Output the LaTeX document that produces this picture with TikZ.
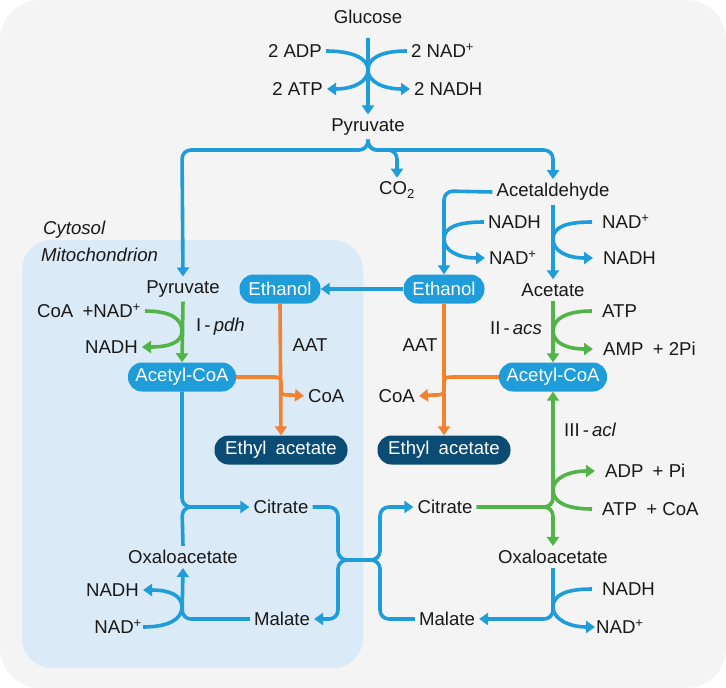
\documentclass[tikz,border=0pt]{standalone}
\usepackage{fontspec}
\setmainfont{Liberation Sans}
\usetikzlibrary{arrows.meta}
\definecolor{bggray}{RGB}{244,244,244}
\definecolor{mitoblue}{RGB}{218,234,247}
\definecolor{flowblue}{RGB}{31,157,218}
\definecolor{flowgreen}{RGB}{80,180,70}
\definecolor{floworange}{RGB}{242,130,48}
\definecolor{navy}{RGB}{10,76,116}
\definecolor{ink}{RGB}{25,25,25}

\begin{document}
\begin{tikzpicture}[
            x=1pt, y=-1pt,
            font=\fontsize{18.6}{21}\selectfont,
            every node/.style = {text=ink, inner sep=4pt},
            flow/.style  = {line width=3.6pt, rounded corners=9pt, -{Triangle[length=9pt,width=12pt]}},
            plain/.style = {line width=3.6pt, rounded corners=9pt},
            curly/.style = {line width=3.6pt, -{Triangle[length=9pt,width=12pt]}},
            pill/.style  = {fill=flowblue, text=white, rounded corners=14pt, minimum height=29pt, inner sep=3pt},
            darkpill/.style = {pill, fill=navy, minimum width=133pt},
            wide/.style  = {inner xsep=10pt}
                        ]
            \useasboundingbox (0,0) rectangle (726,688);
            % compartments
            \fill[bggray, rounded corners=40pt] (0,0) rectangle (726,688);
            \fill[mitoblue, rounded corners=30pt] (22,240) rectangle (363,668);
            \node[anchor=west] (cyto) at (39,230) {\itshape Cytosol};
            \node[anchor=west] (mito) at (37,255) {\itshape Mitochondrion};
            % glycolysis
            \node (glu) at (368,17) {Glucose};
            \node[anchor=east] (adp) at (326,51) {2 ADP};
            \node[anchor=east] (atp) at (327,89) {2 ATP};
            \node[anchor=west] (nadpa) at (407,51) {2 NAD\textsuperscript{+}};
            \node[anchor=west] (nadha) at (410,89) {2 NADH};
            \node (pyr) at (368,127) {Pyruvate};
            \coordinate (ga) at (368,70);
            \draw[flow, flowblue, shorten <=10pt] (glu.south) -- (pyr.north);
            \draw[curly, flowblue] (adp.east) .. controls +(26,0) and +(0,-12) .. (ga) .. controls +(0,12) and +(26,0) .. (atp.east);
            \draw[curly, flowblue] (nadpa.west) .. controls +(-26,0) and +(0,-12) .. (ga) .. controls +(0,12) and +(-26,0) .. (nadha.west);
            % cytosol branch
            \node (co2) at (397,190) {CO\textsubscript{2}};
            \node (ald) at (553,192) {Acetaldehyde};
            \node[pill, minimum width=81pt] (ethr) at (444,289) {Ethanol};
            \node (acet) at (553,290) {Acetate};
            \node (pyrm) at (183,289) {Pyruvate};
            \node[anchor=west] (nadhb) at (484,222) {NADH};
            \node[anchor=west] (nadpb) at (485,258) {NAD\textsuperscript{+}};
            \node[anchor=west, wide] (nadpc) at (592,222) {NAD\textsuperscript{+}};
            \node[anchor=west, wide] (nadhc) at (593,258) {NADH};
            \coordinate (gb) at (444,239);
            \coordinate (gc) at (553,239);
            \draw[flow, flowblue] (pyr.south) -- (368,150) -- (182,150) -- (pyrm.north);
            \draw[flow, flowblue] (pyr.south) -- (368,150) -- (553,150) -- (ald.north);
            \draw[flow, flowblue] (pyr.south) -- (368,150) -- (397,150) -- (co2.north);
            \draw[flow, flowblue] (ald.west) -- (444,191) -- (ethr.north);
            \draw[flow, flowblue] (ald.south) -- (acet.north);
            \draw[curly, flowblue] (nadhb.west) .. controls +(-26,0) and +(0,-12) .. (gb) .. controls +(0,12) and +(-26,0) .. (nadpb.west);
            \draw[curly, flowblue] (nadpc.west) .. controls +(-26,0) and +(0,-12) .. (gc) .. controls +(0,12) and +(-26,0) .. (nadhc.west);
            % mitochondrion pyruvate
            \node[pill, minimum width=81pt] (ethl) at (280,289) {Ethanol};
            \node[pill, minimum width=108pt] (acl) at (182,377) {Acetyl-CoA};
            \node[anchor=east] (coaa) at (145,311) {CoA\enspace+NAD\textsuperscript{+}};
            \node[anchor=east] (nadhd) at (142,347) {NADH};
            \node[anchor=west] (pdh) at (192,327) {I\,-\,\textit{pdh}};
            \coordinate (gd) at (182,331);
            \draw[flow, flowblue] (ethr.west) -- (ethl.east);
            \draw[flow, flowgreen] (pyrm.south) -- (acl.north);
            \draw[curly, flowgreen] (coaa.east) .. controls +(26,0) and +(0,-12) .. (gd) .. controls +(0,12) and +(26,0) .. (nadhd.east);
            % ethyl acetate, mitochondrion
            \node[darkpill] (eal) at (281,450) {Ethyl\hspace{4pt} acetate};
            \node (aata) at (310,345) {AAT};
            \node[anchor=west] (coab) at (304,396) {CoA};
            \draw[flow, floworange] (ethl.south) -- (eal.north);
            \draw[curly, floworange] (acl.east) -- (271,377) .. controls (281,377) .. (281,386) .. controls (281,395) .. (291,395) -- (coab.west);
            % acetate to acetyl-CoA
            \node[pill, minimum width=108pt] (acr) at (553,377) {Acetyl-CoA};
            \node[anchor=west, wide] (atpb) at (592,311) {ATP};
            \node[anchor=west, wide] (amp) at (593,349) {AMP\enspace+ 2Pi};
            \node[anchor=east] (acs) at (546,328) {II\,-\,\textit{acs}};
            \coordinate (ge) at (553,331);
            \draw[flow, flowgreen] (acet.south) -- (acr.north);
            \draw[curly, flowgreen] (atpb.west) .. controls +(-26,0) and +(0,-12) .. (ge) .. controls +(0,12) and +(-26,0) .. (amp.west);
            % ethyl acetate, cytosol
            \node[darkpill] (ear) at (444,450) {Ethyl\hspace{4pt} acetate};
            \node (aatb) at (420,345) {AAT};
            \node[anchor=east] (coac) at (419,396) {CoA};
            \draw[flow, floworange] (ethr.south) -- (ear.north);
            \draw[curly, floworange] (acr.west) -- (456,377) .. controls (444,377) .. (444,386) .. controls (444,395) .. (433,395) -- (coac.east);
            % citrate shuttle, cytosol
            \node (citr) at (445,507) {Citrate};
            \node (oxr) at (553,557) {Oxaloacetate};
            \node (malr) at (447,619) {Malate};
            \node[anchor=west] (acl3) at (560,430) {III\,-\,\textit{acl}};
            \node[anchor=west, wide] (adpb) at (595,471) {ADP\enspace+ Pi};
            \node[anchor=west, wide] (atpc) at (592,509) {ATP\enspace+ CoA};
            \node[anchor=west, wide] (nadhe) at (592,589) {NADH};
            \node[anchor=west, inner xsep=1pt] (nadpe) at (595,627) {NAD\textsuperscript{+}};
            \coordinate (gf) at (553,490);
            \coordinate (gg) at (553,607);
            \draw[flow, flowgreen] (citr.east) -- (553,507) -- (acr.south);
            \draw[flow, flowgreen] (citr.east) -- (553,507) -- (oxr.north);
            \draw[curly, flowgreen] (atpc.west) .. controls +(-26,0) and +(0,12) .. (gf) .. controls +(0,-12) and +(-26,0) .. (adpb.west);
            \draw[flow, flowblue] (oxr.south) -- (553,619) -- (malr.east);
            \draw[curly, flowblue] (nadhe.west) .. controls +(-26,0) and +(0,-12) .. (gg) .. controls +(0,12) and +(-26,0) .. (nadpe.west);
            % citrate shuttle, mitochondrion
            \node (citl) at (281,507) {Citrate};
            \node (oxl) at (183,557) {Oxaloacetate};
            \node (mall) at (282,619) {Malate};
            \node[anchor=east] (nadhf) at (143,590) {NADH};
            \node[anchor=east, inner xsep=1pt] (nadpf) at (143,627) {NAD\textsuperscript{+}};
            \coordinate (jl) at (200,507);
            \coordinate (gh) at (182,607);
            \draw[flow, flowblue] (acl.south) -- (182,507) -- (citl.west);
            \draw[plain, flowblue] (oxl.north) -- (182,507) -- (jl);
            \draw[flow, flowblue] (mall.west) -- (182,619) -- (oxl.south);
            \draw[curly, flowblue] (nadpf.east) .. controls +(26,0) and +(0,12) .. (gh) .. controls +(0,-12) and +(26,0) .. (nadhf.east);
            % transport
            \draw[flow, flowblue] (citl.east) -- (338,507) -- (338,560) -- (380,560) -- (380,507) -- (citr.west);
            \draw[flow, flowblue] (malr.west) -- (380,619) -- (380,560) -- (338,560) -- (338,619) -- (mall.east);
\end{tikzpicture}
\end{document}
